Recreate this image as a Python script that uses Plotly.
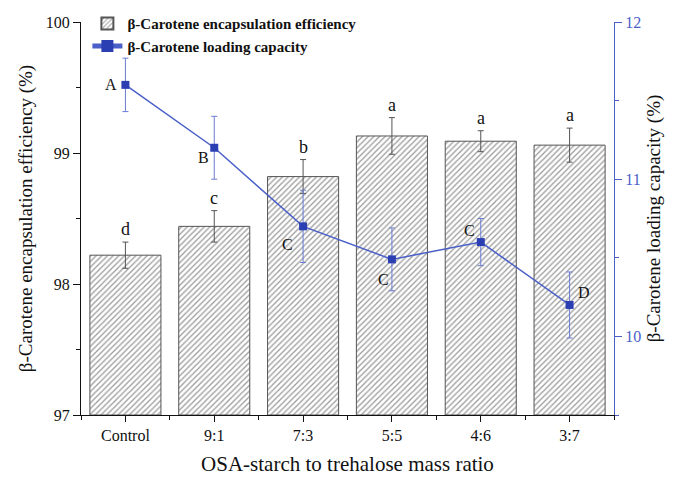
import plotly.graph_objects as go

categories = ["Control", "9:1", "7:3", "5:5", "4:6", "3:7"]
ee_values = [98.22, 98.44, 98.82, 99.13, 99.09, 99.06]
ee_err = [0.10, 0.12, 0.13, 0.14, 0.08, 0.13]
ee_letters = ["d", "c", "b", "a", "a", "a"]
lc_values = [11.60, 11.20, 10.70, 10.49, 10.60, 10.20]
lc_err = [0.17, 0.20, 0.23, 0.20, 0.15, 0.21]
lc_letters = ["A", "B", "C", "C", "C", "D"]
lc_letter_shift = [(-14, 0), (-11, -10), (-16, -18), (-8, -20), (-11, 12), (14, 12)]

FONT = "Liberation Serif"
BLUE = "#4a5fc8"
MARK = "#2b3fb3"
BASE = 97
x = list(range(len(categories)))

fig = go.Figure()
fig.add_trace(go.Bar(
    x=x, y=[v - BASE for v in ee_values], base=BASE, width=0.8, yaxis="y",
    name="β-Carotene encapsulation efficiency",
    marker=dict(color="white", line=dict(color="#555555", width=1),
                pattern=dict(shape="/", fgcolor="#3a3a3a", bgcolor="white", size=4, solidity=0.33)),
    error_y=dict(type="data", array=ee_err, color="#555555", thickness=1, width=3),
))

fig.add_trace(go.Scatter(
    x=x, y=lc_values, yaxis="y2", mode="lines+markers",
    name="β-Carotene loading capacity",
    line=dict(color=BLUE, width=1.5),
    marker=dict(symbol="square", size=8, color=MARK),
    error_y=dict(type="data", array=lc_err, color="#6a7bd4", thickness=1, width=3),
))

annotations = []
for i, (v, e, t) in enumerate(zip(ee_values, ee_err, ee_letters)):
    annotations.append(dict(x=i, y=v + e, xref="x", yref="y", text=t, showarrow=False,
                            yanchor="bottom", yshift=1,
                            font=dict(family=FONT, size=18, color="#111111")))
for i, (v, t, (dx, dy)) in enumerate(zip(lc_values, lc_letters, lc_letter_shift)):
    annotations.append(dict(x=i, y=v, xref="x", yref="y2", text=t, showarrow=False,
                            xshift=dx, yshift=dy,
                            font=dict(family=FONT, size=16, color="#111111")))

fig.update_layout(
    width=673, height=477,
    margin=dict(l=81, r=59, t=22, b=62, autoexpand=False),
    paper_bgcolor="white", plot_bgcolor="white",
    font=dict(family=FONT, size=16, color="#111111"),
    showlegend=True,
    legend=dict(x=0.012, y=0.985, yref="container", xanchor="left", yanchor="top",
                bgcolor="rgba(0,0,0,0)", font=dict(family=FONT, size=15, color="#111111", weight="bold"),
                tracegroupgap=0, itemsizing="constant"),
    xaxis=dict(range=[-0.5, 5.5], tickmode="array", tickvals=x, ticktext=categories,
               showline=True, linecolor="#111111", linewidth=1.2, ticks="outside", ticklen=6,
               tickcolor="#111111", showgrid=False, zeroline=False, automargin=False,
               minor=dict(ticks="outside", tick0=0.5, dtick=1, ticklen=4, tickcolor="#111111"),
               tickfont=dict(family=FONT, size=16),
               title=dict(text="OSA-starch to trehalose mass ratio", font=dict(family=FONT, size=21), standoff=13)),
    yaxis=dict(range=[97, 100], tickmode="array", tickvals=[97, 98, 99, 100],
               showline=True, linecolor="#111111", linewidth=1.2, ticks="outside", ticklen=7,
               tickcolor="#111111", showgrid=False, zeroline=False, automargin=False,
               minor=dict(ticks="outside", tick0=97.5, dtick=1, ticklen=4, tickcolor="#111111"),
               tickfont=dict(family=FONT, size=16),
               title=dict(text="β-Carotene encapsulation efficiency (%)", font=dict(family=FONT, size=19), standoff=8)),
    yaxis2=dict(range=[9.5, 12], overlaying="y", side="right", tickmode="array", tickvals=[10, 11, 12],
                showline=True, linecolor=BLUE, linewidth=1.2, ticks="outside", ticklen=7,
                tickcolor=BLUE, showgrid=False, zeroline=False, automargin=False,
                minor=dict(ticks="outside", tick0=9.5, dtick=0.5, ticklen=4, tickcolor=BLUE),
                tickfont=dict(family=FONT, size=16, color=BLUE),
                title=dict(text="β-Carotene loading capacity (%)", font=dict(family=FONT, size=19, color="#111111"), standoff=6)),
    annotations=annotations,
)

fig.write_html("out.html")
